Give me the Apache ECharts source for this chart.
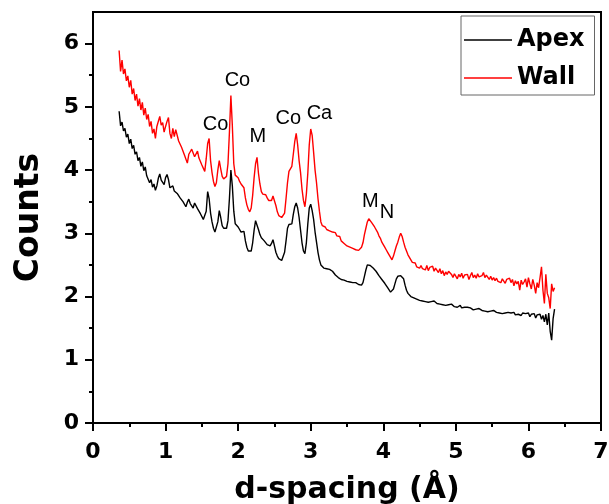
<!DOCTYPE html>
<html>
<head>
<meta charset="utf-8">
<script src="https://cdn.jsdelivr.net/npm/echarts@6/dist/echarts.min.js"></script>
<style>
  html, body { margin: 0; padding: 0; background: #fff; }
  #chart { width: 609px; height: 504px; }
</style>
</head>
<body>
<div id="chart"></div>
<script>
// d-spacing (Å) sample positions of both patterns
const dSpacing = [
  0.36,0.38,0.40,0.42,0.44,0.46,0.48,0.50,0.52,0.54,
  0.56,0.58,0.60,0.62,0.64,0.66,0.68,0.70,0.72,0.74,
  0.76,0.78,0.80,0.82,0.84,0.86,0.88,0.90,0.92,0.94,
  0.96,0.98,1.00,1.02,1.04,1.06,1.08,1.10,1.12,1.14,
  1.16,1.18,1.20,1.22,1.24,1.26,1.28,1.30,1.32,1.34,
  1.36,1.38,1.40,1.42,1.44,1.46,1.48,1.50,1.52,1.54,
  1.56,1.58,1.60,1.62,1.64,1.66,1.68,1.70,1.72,1.74,
  1.76,1.78,1.80,1.82,1.84,1.86,1.88,1.90,1.92,1.94,
  1.96,1.98,2.00,2.02,2.04,2.06,2.08,2.10,2.12,2.14,
  2.16,2.18,2.20,2.22,2.24,2.26,2.28,2.30,2.32,2.34,
  2.36,2.38,2.40,2.42,2.44,2.46,2.48,2.50,2.52,2.54,
  2.56,2.58,2.60,2.62,2.64,2.66,2.68,2.70,2.72,2.74,
  2.76,2.78,2.80,2.82,2.84,2.86,2.88,2.90,2.92,2.94,
  2.96,2.98,3.00,3.02,3.04,3.06,3.08,3.10,3.12,3.14,
  3.16,3.18,3.20,3.22,3.24,3.26,3.28,3.30,3.32,3.34,
  3.36,3.38,3.40,3.42,3.44,3.46,3.48,3.50,3.52,3.54,
  3.56,3.58,3.60,3.62,3.64,3.66,3.68,3.70,3.72,3.74,
  3.76,3.78,3.80,3.82,3.84,3.86,3.88,3.90,3.92,3.94,
  3.96,3.98,4.00,4.02,4.04,4.06,4.08,4.10,4.12,4.14,
  4.16,4.18,4.20,4.22,4.24,4.26,4.28,4.30,4.32,4.34,
  4.36,4.38,4.40,4.42,4.44,4.46,4.48,4.50,4.52,4.54,
  4.56,4.58,4.60,4.62,4.64,4.66,4.68,4.70,4.72,4.74,
  4.76,4.78,4.80,4.82,4.84,4.86,4.88,4.90,4.92,4.94,
  4.96,4.98,5.00,5.02,5.04,5.06,5.08,5.10,5.12,5.14,
  5.16,5.18,5.20,5.22,5.24,5.26,5.28,5.30,5.32,5.34,
  5.36,5.38,5.40,5.42,5.44,5.46,5.48,5.50,5.52,5.54,
  5.56,5.58,5.60,5.62,5.64,5.66,5.68,5.70,5.72,5.74,
  5.76,5.78,5.80,5.82,5.84,5.86,5.88,5.90,5.92,5.94,
  5.96,5.98,6.00,6.02,6.04,6.06,6.08,6.10,6.12,6.14,
  6.16,6.18,6.20,6.22,6.24,6.26,6.28,6.30,6.32,6.34,
  6.36
];

// Counts of the apex pattern
const apexCounts = [
  4.93,4.70,4.76,4.62,4.66,4.52,4.57,4.42,4.49,4.34,
  4.39,4.25,4.29,4.15,4.20,4.06,4.13,3.99,4.05,3.91,
  3.92,3.80,3.85,3.73,3.78,3.68,3.75,3.87,3.94,3.84,
  3.86,3.77,3.88,3.93,3.85,3.72,3.69,3.75,3.67,3.69,
  3.63,3.61,3.56,3.56,3.50,3.51,3.42,3.49,3.54,3.47,
  3.46,3.40,3.48,3.50,3.39,3.40,3.31,3.29,3.22,3.21,
  3.35,3.66,3.55,3.32,3.18,3.08,3.02,3.04,3.18,3.36,
  3.25,3.12,3.08,3.06,3.08,3.20,3.55,4.00,3.75,3.35,
  3.15,3.12,3.10,3.06,3.02,3.05,3.03,2.88,2.78,2.72,
  2.69,2.72,2.85,3.05,3.20,3.22,3.06,2.98,2.93,2.92,
  2.88,2.86,2.82,2.81,2.80,2.84,2.90,2.80,2.70,2.64,
  2.60,2.58,2.57,2.60,2.70,2.88,3.08,3.14,3.12,3.15,
  3.30,3.42,3.48,3.40,3.25,3.05,2.85,2.72,2.68,2.85,
  3.15,3.40,3.46,3.36,3.22,3.02,2.86,2.70,2.58,2.50,
  2.47,2.45,2.44,2.44,2.43,2.43,2.41,2.40,2.37,2.34,
  2.32,2.30,2.29,2.27,2.28,2.26,2.25,2.24,2.25,2.23,
  2.23,2.22,2.21,2.22,2.20,2.19,2.19,2.18,2.22,2.32,
  2.42,2.50,2.52,2.49,2.47,2.45,2.43,2.40,2.37,2.33,
  2.30,2.27,2.24,2.21,2.18,2.14,2.11,2.07,2.06,2.12,
  2.20,2.28,2.32,2.34,2.33,2.31,2.28,2.18,2.10,2.05,
  2.02,2.00,1.99,1.98,1.97,1.96,1.97,1.94,1.95,1.93,
  1.95,1.92,1.94,1.91,1.94,1.92,1.90,1.93,1.91,1.89,
  1.90,1.88,1.91,1.87,1.89,1.86,1.88,1.87,1.85,1.88,
  1.86,1.84,1.87,1.83,1.85,1.86,1.82,1.84,1.83,1.81,
  1.83,1.80,1.82,1.81,1.79,1.82,1.80,1.78,1.81,1.79,
  1.78,1.80,1.77,1.79,1.76,1.78,1.77,1.75,1.78,1.76,
  1.75,1.77,1.74,1.76,1.73,1.76,1.74,1.72,1.75,1.73,
  1.74,1.72,1.75,1.71,1.74,1.72,1.73,1.70,1.74,1.71,
  1.73,1.70,1.74,1.68,1.72,1.69,1.73,1.66,1.71,1.68,
  1.72,1.64,1.70,1.60,1.72,1.55,1.74,1.45,1.31,1.65,
  1.80
];

// Counts of the wall pattern
const wallCounts = [
  5.89,5.56,5.74,5.52,5.60,5.41,5.49,5.31,5.42,5.20,
  5.29,5.10,5.20,5.01,5.13,4.95,5.07,4.87,4.98,4.80,
  4.88,4.69,4.77,4.58,4.65,4.50,4.69,4.70,4.85,4.71,
  4.75,4.60,4.69,4.77,4.83,4.58,4.50,4.66,4.53,4.64,
  4.61,4.46,4.49,4.36,4.38,4.24,4.27,4.11,4.25,4.29,
  4.33,4.36,4.21,4.22,4.30,4.19,4.17,4.08,4.07,3.98,
  4.18,4.42,4.50,4.15,3.96,3.82,3.74,3.80,4.00,4.15,
  4.02,3.90,3.86,3.84,3.90,4.10,4.60,5.18,4.70,4.10,
  3.92,3.90,3.88,3.82,3.78,3.76,3.72,3.56,3.45,3.38,
  3.34,3.40,3.60,3.88,4.10,4.20,3.95,3.78,3.66,3.62,
  3.60,3.61,3.56,3.52,3.54,3.52,3.59,3.56,3.44,3.34,
  3.28,3.26,3.25,3.27,3.32,3.55,3.80,3.98,4.02,4.06,
  4.25,4.45,4.58,4.40,4.15,3.96,3.70,3.52,3.42,3.62,
  3.95,4.40,4.65,4.55,4.28,4.00,3.80,3.55,3.35,3.18,
  3.12,3.09,3.10,3.06,3.08,3.04,3.06,3.02,3.00,3.01,
  2.96,2.93,2.95,2.88,2.86,2.84,2.82,2.80,2.82,2.78,
  2.79,2.76,2.78,2.74,2.76,2.73,2.75,2.78,2.85,2.98,
  3.08,3.18,3.23,3.20,3.17,3.14,3.10,3.07,3.02,2.96,
  2.92,2.86,2.82,2.78,2.74,2.70,2.66,2.62,2.58,2.64,
  2.72,2.80,2.86,2.94,3.00,2.95,2.86,2.78,2.72,2.66,
  2.62,2.58,2.54,2.51,2.53,2.47,2.50,2.45,2.49,2.44,
  2.47,2.42,2.49,2.41,2.46,2.43,2.48,2.40,2.45,2.43,
  2.38,2.44,2.36,2.41,2.33,2.39,2.35,2.40,2.37,2.35,
  2.30,2.36,2.33,2.28,2.35,2.31,2.37,2.29,2.34,2.32,
  2.35,2.27,2.33,2.38,2.30,2.34,2.29,2.36,2.31,2.28,
  2.33,2.38,2.30,2.34,2.31,2.27,2.32,2.26,2.30,2.25,
  2.29,2.24,2.27,2.22,2.28,2.25,2.21,2.27,2.24,2.29,
  2.22,2.27,2.17,2.25,2.20,2.24,2.10,2.26,2.19,2.23,
  2.28,2.15,2.30,2.20,2.12,2.27,2.18,2.05,2.22,2.14,
  2.30,2.47,2.10,1.89,2.35,2.05,1.98,1.81,2.20,2.08,
  2.14
];

const seriesNames = ['Apex', 'Wall'];

// Phase labels over the peaks (text, d-spacing, counts at the label centre)
const peakLabels = ['Co', 'Co', 'M', 'Co', 'Ca', 'M', 'N'];
const peakLabelX = [1.69, 1.99, 2.27, 2.69, 3.12, 3.82, 4.05];
const peakLabelY = [4.72, 5.42, 4.53, 4.82, 4.90, 3.51, 3.33];

const xTicks = [0, 1, 2, 3, 4, 5, 6, 7];
const yTicks = [0, 1, 2, 3, 4, 5, 6];
const yMinorTicks = [0.5, 1.5, 2.5, 3.5, 4.5, 5.5];

const zip = (xs, ys) => xs.map((x, i) => [x, ys[i]]);

const boldFont = 'DejaVu Sans';
const chart = echarts.init(document.getElementById('chart'), null, { renderer: 'canvas' });

chart.setOption({
  animation: false,
  backgroundColor: '#fff',
  grid: {
    left: 93, right: 8, top: 12, bottom: 81,
    outerBoundsMode: 'none',
    containLabel: false,
    show: true, borderColor: '#000', borderWidth: 2, backgroundColor: 'transparent'
  },
  legend: {
    data: seriesNames,
    orient: 'vertical',
    left: 461, top: 16,
    padding: [12, 10, 5, 3],
    itemGap: 14,
    icon: 'rect',
    itemWidth: 48,
    itemHeight: 1.5,
    borderColor: '#666',
    borderWidth: 1,
    textStyle: { fontFamily: boldFont, fontWeight: 'bold', fontSize: 24, color: '#000' }
  },
  xAxis: {
    type: 'value',
    min: 0, max: 7, interval: 1,
    name: 'd-spacing (Å)',
    nameLocation: 'middle',
    nameGap: 52,
    nameTextStyle: { fontFamily: boldFont, fontWeight: 'bold', fontSize: 30, color: '#000' },
    axisLine: { show: true, onZero: false, lineStyle: { color: '#000', width: 2 } },
    axisTick: { show: true, inside: false, length: 8, lineStyle: { color: '#000', width: 2 } },
    minorTick: { show: true, splitNumber: 2, length: 4, lineStyle: { color: '#000', width: 2 } },
    axisLabel: {
      customValues: xTicks,
      margin: 18,
      fontFamily: boldFont, fontWeight: 'bold', fontSize: 22, color: '#000'
    },
    splitLine: { show: false },
    minorSplitLine: { show: false }
  },
  yAxis: [
    {
      type: 'value',
      position: 'left',
      min: 0, max: 6.5, interval: 0.5,
      name: 'Counts',
      nameLocation: 'middle',
      nameGap: 47,
      nameTextStyle: { fontFamily: boldFont, fontWeight: 'bold', fontSize: 33, color: '#000' },
      axisLine: { show: true, onZero: false, lineStyle: { color: '#000', width: 2 } },
      axisTick: { show: true, customValues: yTicks, length: 8, lineStyle: { color: '#000', width: 2 } },
      axisLabel: {
        customValues: yTicks,
        margin: 14,
        fontFamily: boldFont, fontWeight: 'bold', fontSize: 22, color: '#000'
      },
      splitLine: { show: false }
    },
    {
      type: 'value',
      position: 'left',
      min: 0, max: 6.5, interval: 0.5,
      axisLine: { show: false },
      axisTick: { show: true, customValues: yMinorTicks, length: 4, lineStyle: { color: '#000', width: 2 } },
      axisLabel: { show: false },
      splitLine: { show: false }
    }
  ],
  series: [
    {
      name: seriesNames[0],
      type: 'line',
      data: zip(dSpacing, apexCounts),
      symbol: 'none',
      lineStyle: { color: '#000', width: 1.4 },
      itemStyle: { color: '#000' },
      z: 3
    },
    {
      name: seriesNames[1],
      type: 'line',
      data: zip(dSpacing, wallCounts),
      symbol: 'none',
      lineStyle: { color: '#ff0000', width: 1.4 },
      itemStyle: { color: '#ff0000' },
      z: 2
    },
    {
      name: 'peaks',
      type: 'scatter',
      symbolSize: 0,
      silent: true,
      itemStyle: { opacity: 1 },
      data: peakLabels.map((t, i) => ({ name: t, value: [peakLabelX[i], peakLabelY[i]] })),
      label: {
        show: true,
        position: 'inside',
        formatter: '{b}',
        fontFamily: 'Liberation Sans',
        fontSize: 20,
        color: '#000',
        opacity: 1
      },
      z: 4
    }
  ]
});
</script>
</body>
</html>
